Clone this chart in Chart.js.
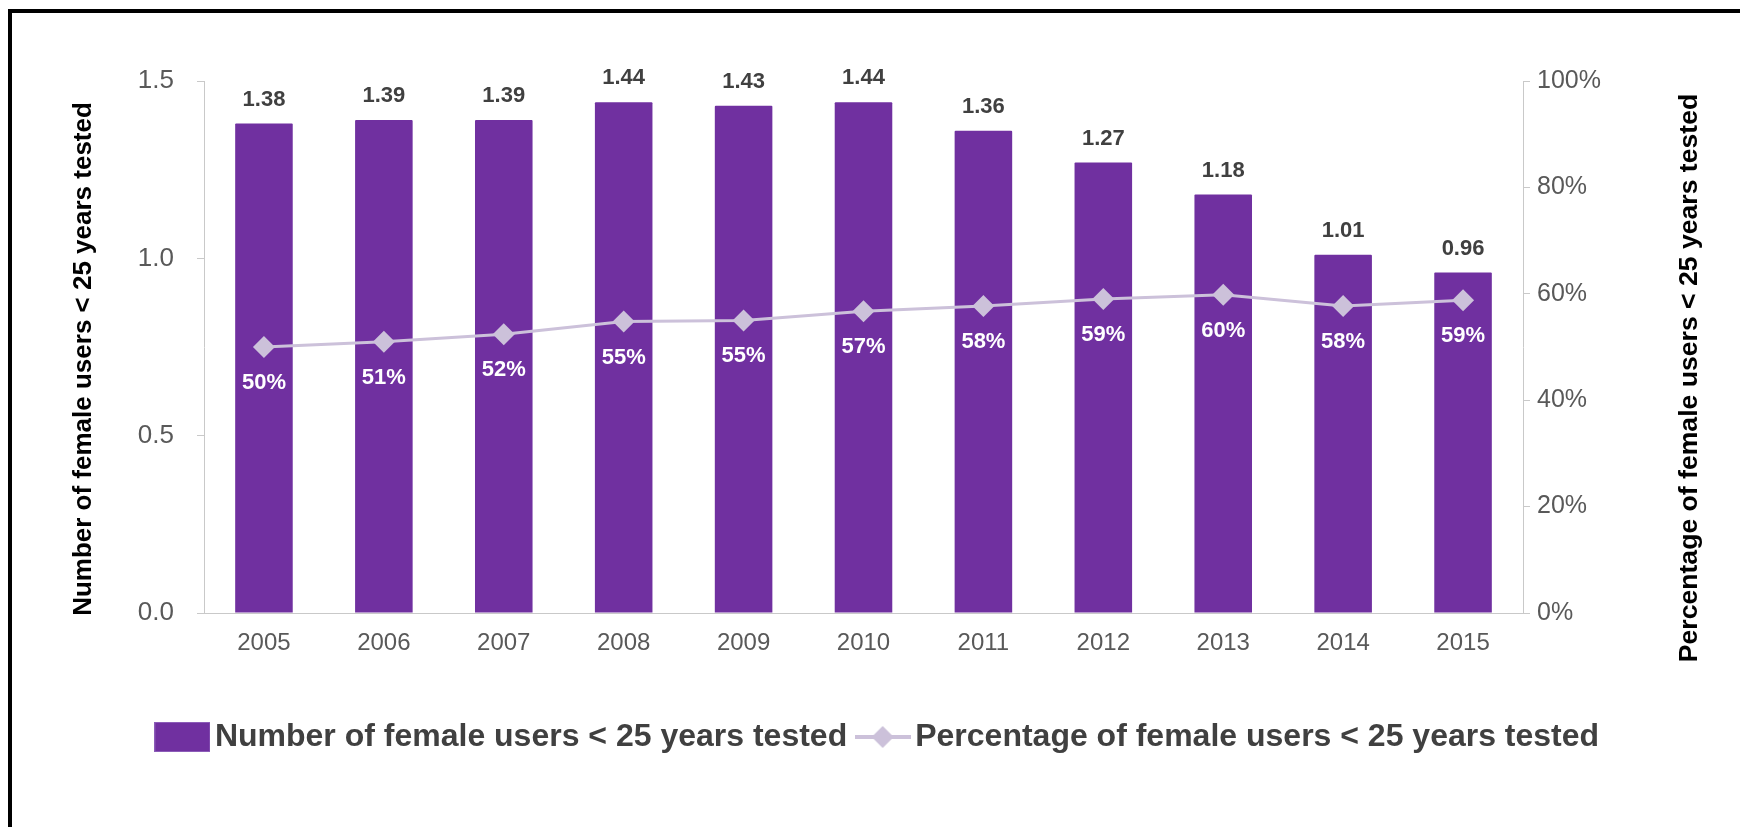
<!DOCTYPE html>
<html>
<head>
<meta charset="utf-8">
<script src="https://cdn.jsdelivr.net/npm/chart.js@4.4.1/dist/chart.umd.min.js"></script>
<style>
  html, body { margin: 0; padding: 0; background: #fff; }
  #wrap { position: relative; width: 1740px; height: 827px; overflow: hidden; }
  #frame {
    position: absolute; left: 8px; top: 9px; width: 2000px; height: 2000px;
    border-top: 4px solid #000; border-left: 4px solid #000; pointer-events: none;
  }
</style>
</head>
<body>
<div id="wrap">
  <canvas id="combo"></canvas>
  <div id="frame"></div>
</div>
<script>
// data
const years = ['2005', '2006', '2007', '2008', '2009', '2010', '2011', '2012', '2013', '2014', '2015'];
const usersTested = [1.38, 1.39, 1.39, 1.44, 1.43, 1.44, 1.36, 1.27, 1.18, 1.01, 0.96];
const shareTested = [50, 51, 52.4, 54.8, 55, 56.7, 57.7, 59, 59.8, 57.7, 58.8];
const leftTicks = [0, 0.5, 1.0, 1.5];
const rightTicks = [0, 20, 40, 60, 80, 100];
const leftTitle = 'Number of female users < 25 years tested';
const rightTitle = 'Percentage of female users < 25 years tested';

const PURPLE = '#7030A0';
const LILAC = '#CCC1DA';
const AXIS = '#C9C9C9';
const FONT = '"Liberation Sans", Arial, sans-serif';

// legend icons: filled box, and line with a diamond (excel style)
function makeIcon(kind) {
  const c = document.createElement('canvas');
  c.width = 56; c.height = 30;
  const g = c.getContext('2d');
  if (kind === 'box') {
    g.fillStyle = PURPLE;
    g.fillRect(0.5, 0.5, 55, 29);
    g.strokeStyle = '#8C5CB8';
    g.lineWidth = 1;
    g.strokeRect(0.5, 0.5, 55, 29);
  } else {
    g.strokeStyle = LILAC;
    g.lineWidth = 4;
    g.beginPath(); g.moveTo(0, 15); g.lineTo(56, 15); g.stroke();
    g.fillStyle = LILAC;
    g.beginPath();
    g.moveTo(28, 4); g.lineTo(39, 15); g.lineTo(28, 26); g.lineTo(17, 15);
    g.closePath(); g.fill();
  }
  return c;
}
const legendIcons = [makeIcon('box'), makeIcon('line')];

// value labels above bars and under the markers
const valueLabels = {
  id: 'valueLabels',
  afterDatasetsDraw(chart) {
    const ctx = chart.ctx;
    ctx.save();
    ctx.textAlign = 'center';
    ctx.textBaseline = 'middle';
    ctx.font = 'bold 22px ' + FONT;
    ctx.fillStyle = '#404040';
    chart.getDatasetMeta(0).data.forEach((bar, i) => {
      ctx.fillText(usersTested[i].toFixed(2), bar.x, bar.y - 24);
    });
    ctx.fillStyle = '#ffffff';
    chart.getDatasetMeta(1).data.forEach((pt, i) => {
      ctx.fillText(Math.round(shareTested[i]) + '%', pt.x, pt.y + 36);
    });
    ctx.restore();
  }
};

// both axis titles read bottom-to-top, as in the excel original
const axisTitles = {
  id: 'axisTitles',
  afterDraw(chart) {
    const ctx = chart.ctx;
    const put = (text, x, y, size) => {
      ctx.save();
      ctx.translate(x, y);
      ctx.rotate(-Math.PI / 2);
      ctx.textAlign = 'center';
      ctx.textBaseline = 'middle';
      ctx.fillStyle = '#000';
      ctx.font = 'bold ' + size + 'px ' + FONT;
      ctx.fillText(text, 0, 0);
      ctx.restore();
    };
    put(leftTitle, 84, 359, 26);
    put(rightTitle, 1690, 378, 26.6);
  }
};

new Chart(document.getElementById('combo'), {
  type: 'bar',
  data: {
    labels: years,
    datasets: [{
      label: leftTitle,
      data: usersTested,
      backgroundColor: PURPLE,
      borderRadius: 1,
      barPercentage: 0.48,
      categoryPercentage: 1,
      yAxisID: 'y',
      order: 2
    }, {
      type: 'line',
      label: rightTitle,
      data: shareTested,
      borderColor: LILAC,
      backgroundColor: LILAC,
      borderWidth: 3,
      pointStyle: 'rectRot',
      pointRadius: 11,
      pointHoverRadius: 11,
      pointBorderWidth: 0,
      tension: 0,
      yAxisID: 'y1',
      order: 1
    }]
  },
  options: {
    responsive: true,
    maintainAspectRatio: false,
    animation: false,
    layout: { padding: { left: 45, right: 20, top: 81, bottom: 64 } },
    plugins: {
      tooltip: { enabled: false },
      legend: {
        position: 'bottom',
        labels: {
          usePointStyle: true,
          pointStyleWidth: 33,
          boxHeight: 30,
          padding: 19,
          color: '#404040',
          font: { family: FONT, size: 32, weight: 'bold' },
          generateLabels(chart) {
            return chart.data.datasets.map((ds, i) => ({
              text: ds.label,
              pointStyle: legendIcons[i],
              fillStyle: PURPLE,
              strokeStyle: PURPLE,
              lineWidth: 0,
              fontColor: '#404040',
              hidden: false,
              datasetIndex: i
            }));
          }
        }
      }
    },
    scales: {
      x: {
        grid: { display: false },
        border: { display: true, color: AXIS, width: 1 },
        ticks: { color: '#595959', padding: 8, font: { family: FONT, size: 24 } },
        afterFit(scale) { scale.height = 89; }
      },
      y: {
        position: 'left',
        min: 0,
        max: 1.5,
        afterBuildTicks(scale) { scale.ticks = leftTicks.map(v => ({ value: v })); },
        grid: { drawOnChartArea: false, drawTicks: true, tickLength: 7, color: AXIS },
        border: { display: true, color: AXIS, width: 1 },
        ticks: {
          color: '#595959', padding: 23,
          font: { family: FONT, size: 26 },
          callback: v => Number(v).toFixed(1)
        },
        afterFit(scale) { scale.width = 159; }
      },
      y1: {
        position: 'right',
        min: 0,
        max: 100,
        afterBuildTicks(scale) { scale.ticks = rightTicks.map(v => ({ value: v })); },
        grid: { drawOnChartArea: false, drawTicks: true, tickLength: 7, color: AXIS },
        border: { display: true, color: AXIS, width: 1 },
        ticks: {
          color: '#595959', padding: 7,
          font: { family: FONT, size: 25 },
          callback: v => v + '%'
        },
        afterFit(scale) { scale.width = 197; }
      }
    }
  },
  plugins: [valueLabels, axisTitles]
});
</script>
</body>
</html>
